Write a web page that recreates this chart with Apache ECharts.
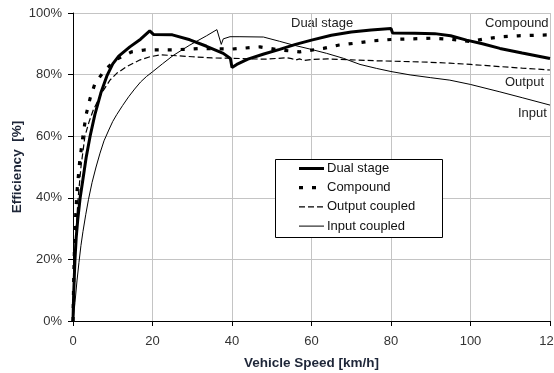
<!DOCTYPE html>
<html>
<head>
<meta charset="utf-8">
<script src="https://cdn.jsdelivr.net/npm/echarts@6/dist/echarts.min.js"></script>
<style>
html,body{margin:0;padding:0;background:#fff;}
#chart{width:554px;height:373px;}
</style>
</head>
<body>
<div id="chart"></div>
<script>
// ---- data (vehicle speed km/h, efficiency %) ----
var seriesNames = ['Dual stage', 'Compound', 'Output coupled', 'Input coupled'];
var xTicks = [0, 20, 40, 60, 80, 100, 120];
var yTicks = [0, 20, 40, 60, 80, 100];

var dualStage = [[0,0],[0.15,8],[0.35,15],[0.5,20],[0.8,27],[1.2,33],[1.8,40],[2.5,46],[3.3,53],[4.3,60],[5.5,67],[7,74],[8.5,79.5],[10,83.5],[11.5,86],[14.3,89],[17,91.5],[19.3,94.2],[20.3,93],[25,92.9],[29.4,91.3],[33.6,89.2],[37.8,86.9],[39.6,85.2],[40,82.3],[41.2,83.3],[44,85],[48,86.7],[52,88.2],[56,89.8],[60,91.2],[65,92.8],[70,93.8],[75,94.5],[80,95],[80.4,93.5],[86,93.4],[91,93.3],[95,92.6],[99,91.2],[103,90],[107.4,88.5],[113,87],[120,85.2]];

var compound = [[0,0],[0.2,15],[0.5,30],[1,42],[1.7,52],[2.5,60],[3.3,67],[4.3,72.3],[5.5,77],[8,81.5],[11,85],[14.8,87.4],[18,88],[25,88],[32,88.5],[40,88.3],[47,89],[52,88],[57,87.4],[63,88.5],[67,89.6],[71,90.2],[75,90.9],[80,91.4],[90,91.8],[95,91.5],[100,90.7],[104,91.7],[108,92.3],[112,92.6],[120,92.9]];

var outputCoupled = [[0,0],[0.3,15],[0.7,28],[1.3,40],[2,50],[3,60],[4,64.5],[5.1,68.5],[7.2,74],[9.3,78.2],[11,80.4],[13.5,82.6],[16.9,84.8],[19.4,85.8],[21.9,86.4],[25,86.2],[30,85.8],[35,85.4],[40,85.3],[45,85.1],[48.7,85],[53.8,85.5],[55,85.2],[56,84.7],[57,85.1],[58,84.6],[60,84.9],[64,85.1],[70,84.8],[76,84.5],[84.8,84.2],[90,84],[94.8,83.7],[100,83.3],[107.4,82.6],[113,82.1],[120,81.5]];

var inputCoupled = [[0,0],[0.5,6],[1,13],[1.5,19],[2,24.5],[2.5,29],[3.2,34.5],[3.9,39.5],[4.8,45],[5.8,50],[6.8,54.5],[7.8,58.5],[9,62],[10,64.8],[11,67],[12.5,70],[14,72.8],[15.5,75.3],[17,77.6],[18.5,79.4],[20,80.9],[22.5,83.5],[25.2,86.2],[29.4,89.6],[33.6,92.6],[36.2,94.6],[37.3,89.8],[37.8,91.6],[39.5,92.3],[42,92.3],[47.9,92.2],[52,90.8],[55.4,89.6],[59.6,88.3],[63.8,86.9],[68,85.3],[72.2,83.3],[76.4,82],[80,81],[84.8,79.9],[90,79],[94.8,78.2],[100,76.8],[107.4,74.4],[113,72.5],[120,70.1]];

var curveLabels = ['Dual stage', 'Compound', 'Output', 'Input'];

// ---- styles ----
var font = 'Liberation Sans, Arial, sans-serif';
var nameColor = '#1e2638';
var styles = [
  { color: '#000', width: 3, type: 'solid' },
  { color: '#000', width: 3.2, type: [4, 9] },
  { color: '#000', width: 1.2, type: [6, 3] },
  { color: '#000', width: 1, type: 'solid' }
];
var seriesData = [dualStage, compound, outputCoupled, inputCoupled];

var chart = echarts.init(document.getElementById('chart'));

// legend drawn as graphic (box, line samples, real text)
var legendBox = { x: 275, y: 159, w: 167, h: 78, row0: 168.5, rowGap: 19.2, lineX0: 299, lineX1: 324, textX: 327 };
var legendChildren = [{
  type: 'rect', shape: { x: legendBox.x + 0.5, y: legendBox.y + 0.5, width: legendBox.w, height: legendBox.h },
  style: { fill: '#fff', stroke: '#000', lineWidth: 1 }, z: 10
}];
seriesNames.forEach(function (n, i) {
  var yy = legendBox.row0 + i * legendBox.rowGap;
  var st = styles[i];
  legendChildren.push({
    type: 'line', shape: { x1: legendBox.lineX0, y1: yy, x2: legendBox.lineX1, y2: yy },
    style: { stroke: '#000', lineWidth: st.width, lineDash: st.type === 'solid' ? null : st.type }, z: 11
  });
  legendChildren.push({
    type: 'text', x: legendBox.textX, y: yy,
    style: { text: n, font: '13px ' + font, fill: '#111', verticalAlign: 'middle', textAlign: 'left' }, z: 11
  });
});

var labelGraphics = [
  { type: 'text', left: 291, top: 17, style: { text: curveLabels[0], font: '13px ' + font, fill: '#222' } },
  { type: 'text', left: 485, top: 17, style: { text: curveLabels[1], font: '13px ' + font, fill: '#222' } },
  { type: 'text', left: 505, top: 76, style: { text: curveLabels[2], font: '13px ' + font, fill: '#222' } },
  { type: 'text', left: 518, top: 107, style: { text: curveLabels[3], font: '13px ' + font, fill: '#222' } }
];

chart.setOption({
  animation: false,
  backgroundColor: '#fff',
  grid: { left: 73, right: 4, top: 13, bottom: 52, containLabel: false, outerBoundsMode: 'none' },
  xAxis: {
    type: 'value', min: xTicks[0], max: xTicks[xTicks.length - 1], interval: 20,
    name: 'Vehicle Speed [km/h]', nameLocation: 'middle', nameGap: 35, nameMoveOverlap: false,
    nameTextStyle: { fontFamily: font, fontSize: 13.5, fontWeight: 'bold', color: nameColor },
    axisLine: { show: true, lineStyle: { color: '#000', width: 1 } },
    axisTick: { show: true, inside: false, length: 5, lineStyle: { color: '#000' } },
    axisLabel: { margin: 14, fontFamily: font, fontSize: 13, color: '#333', showMaxLabel: true, hideOverlap: false },
    splitLine: { show: true, lineStyle: { color: '#c4c4c4', width: 1 } }
  },
  yAxis: {
    type: 'value', min: yTicks[0], max: yTicks[yTicks.length - 1], interval: 20,
    name: 'Efficiency  [%]', nameLocation: 'middle', nameGap: 49, nameRotate: 90, nameMoveOverlap: false,
    nameTextStyle: { fontFamily: font, fontSize: 13.5, fontWeight: 'bold', color: nameColor },
    axisLine: { show: true, lineStyle: { color: '#000', width: 1 } },
    axisTick: { show: true, inside: false, length: 5, lineStyle: { color: '#000' } },
    axisLabel: { margin: 11, fontFamily: font, fontSize: 13, color: '#333', formatter: '{value}%' },
    splitLine: { show: true, lineStyle: { color: '#c4c4c4', width: 1 } }
  },
  graphic: [{ type: 'group', children: legendChildren }].concat(labelGraphics),
  series: seriesNames.map(function (n, i) {
    return {
      name: n, type: 'line', data: seriesData[i], symbol: 'none', showSymbol: false,
      smooth: false, lineStyle: styles[i], color: '#000', animation: false, z: 3
    };
  })
});
</script>
</body>
</html>
